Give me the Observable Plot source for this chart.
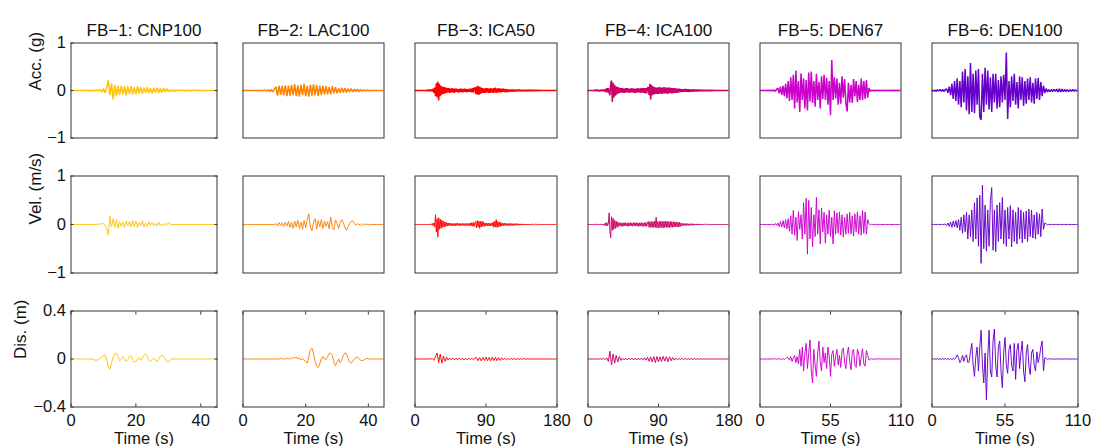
<!DOCTYPE html>
<html><head><meta charset="utf-8">
<script src="https://cdn.jsdelivr.net/npm/d3@7"></script>
<script src="https://cdn.jsdelivr.net/npm/@observablehq/plot@0.6"></script>
<style>
body{margin:0;background:#fff;}
#chart{position:relative;width:1097px;height:446px;overflow:hidden;}
</style></head><body><div id="chart"></div>
<script>
// ---- labels / layout arrays ----
const titles = ["FB−1: CNP100","FB−2: LAC100","FB−3: ICA50","FB−4: ICA100","FB−5: DEN67","FB−6: DEN100"];
const colors = ["#ffc20a","#ff8000","#ff0000","#cc0066","#cc00cc","#6600cc"];
const durations = [45,45,180,180,110,110];
const xTickValues = [[0,20,40],[0,20,40],[0,90,180],[0,90,180],[0,55,110],[0,55,110]];
const rowLabels = ["Acc. (g)","Vel. (m/s)","Dis. (m)"];
const yDomains = [[-1,1],[-1,1],[-0.4,0.4]];
const yTickValues = [[-1,0,1],[-1,0,1],[-0.4,0,0.4]];
const accStep = [0.5,0.5,1,1,1,1];
const velStep = [0.5,0.5,1,1,1,1];
const disStep = [0.5,0.5,2,2,1,1];

// ---- FB-1 ----
const acc1 = [
0,0,0,0,0,0,0,0,.005,-.005,
.01,-.01,.008,-.01,.012,-.01,.015,-.012,.02,-.03,
.04,-.05,.06,.21,-.1,.15,-.19,.12,-.12,.1,
-.09,.1,-.08,.09,-.1,.08,-.07,.09,-.08,.07,
-.08,.09,-.06,.07,-.07,.06,-.05,.07,-.06,.05,
-.06,.05,-.04,.06,-.05,.04,-.04,.05,-.03,.04,
-.03,.02,-.02,.015,-.02,.015,-.01,.015,-.01,.01,
-.01,.01,-.008,.01,-.01,.008,-.005,.02,-.01,.005,
-.005,0,0,0,0,0,0,0,0,0,
0];
const vel1 = [
0,0,0,0,0,0,0,0,0,0,
0,0,0,0,0,0,.003,.005,.01,.02,
.01,-.02,-.08,-.22,.17,-.05,.12,-.06,.1,-.08,
.06,-.04,.05,-.06,.07,-.03,.06,-.05,.08,-.04,
.07,-.06,.04,-.03,.08,-.05,.03,-.04,.06,-.02,
.04,-.03,.02,-.03,.05,-.02,.01,-.02,.02,-.01,
.04,.01,0,0,0,0,0,0,0,0,
0,0,0,0,0,0,0,0,0,0,
0,0,0,0,0,0,0,0,0,0,
0];
const dis1 = [
0,0,0,0,0,0,0,0,0,0,
0,0,0,0,-.005,-.01,-.01,-.005,.005,.015,
.03,.035,0,-.07,-.085,-.03,.02,.045,.05,.02,
-.015,0,.02,0,-.02,-.005,.02,.025,0,-.025,
-.02,0,.01,-.01,.01,.035,.04,.02,-.01,-.02,
-.005,.01,-.01,-.02,0,.02,.03,.025,0,-.02,
-.025,-.01,0,0,0,0,0,0,0,0,
0,0,0,0,0,0,0,0,0,0,
0,0,0,0,0,0,0,0,0,0,
0];

// ---- FB-2 ----
const acc2 = [
0,0,0,0,0,0,0,0,0,0,
0,0,.005,-.008,.01,-.01,.015,-.02,.02,-.03,
.03,.08,-.11,.1,-.09,.1,-.1,.11,-.12,.1,
-.11,.12,-.1,.13,-.12,.11,-.13,.12,-.1,.14,
-.12,.1,-.13,.12,-.11,.13,-.1,.12,-.12,.1,
-.09,.1,-.08,.09,-.08,.07,-.08,.09,-.06,.07,
-.06,.05,-.05,.06,-.04,.05,-.04,.04,-.03,.04,
-.03,.03,-.02,.025,-.02,.02,-.015,.015,-.01,.01,
-.008,.005,-.005,.003,0,0,0,0,0,0,
0];
const vel2 = [
0,0,0,0,0,0,0,0,0,0,
0,0,0,0,0,0,0,0,0,0,
0,.02,-.03,.04,-.02,.03,-.04,.05,-.03,.06,
-.06,.04,-.08,.07,-.05,.09,-.08,.05,-.1,.08,
-.06,.1,.22,-.05,-.13,.04,.12,-.1,.08,-.05,
.1,-.08,.07,-.04,.06,-.09,.15,-.06,-.11,.09,
.03,-.08,.02,.1,.04,-.06,-.12,-.05,.02,.06,
.08,.03,-.01,.02,-.01,.01,-.02,.01,0,.01,
-.01,.005,0,0,0,0,0,0,0,0,
0];
const dis2 = [
0,0,0,0,0,0,0,0,0,0,
0,0,0,0,0,0,0,0,0,0,
0,0,.003,-.003,.005,0,.005,-.005,.008,-.004,
.01,0,.015,.005,.018,0,.01,-.008,.005,-.01,
-.02,-.035,.02,.08,.09,.05,-.02,-.06,-.07,-.04,
0,.02,0,-.005,.02,.045,.05,.03,-.02,-.055,
-.03,0,-.03,-.01,.03,.05,.045,.01,-.025,-.035,
-.02,0,.01,.015,.005,-.01,-.015,-.01,0,.005,
.002,0,0,0,0,0,0,0,0,0,
0];

// ---- FB-3 ----
const acc3 = [
0,0,0,0,0,0,0,0,0,0,
0,0,0,0,0,.01,-.01,.015,-.01,.02,
-.015,.02,-.02,.04,-.05,.06,-.12,.15,-.14,.19,
-.21,.14,-.12,.1,-.09,.08,-.07,.07,-.06,.06,
-.05,.05,-.04,.05,-.05,.04,-.04,.05,-.04,.04,
-.05,.04,-.03,.04,-.04,.03,-.04,.04,-.03,.04,
-.04,.03,-.03,.04,-.03,.03,-.04,.03,-.03,.04,
-.03,.04,-.04,.05,-.04,.05,.06,-.07,.08,-.09,
.1,-.09,.08,-.07,.06,-.05,.05,-.05,.04,-.05,
.05,-.04,.05,-.05,.04,-.05,.05,-.04,.04,-.05,
.05,-.04,.06,-.05,.04,-.04,.05,-.04,.04,-.04,
.04,-.03,.04,-.03,.03,-.04,.03,-.03,.02,-.03,
.02,-.02,.02,-.025,.02,-.02,.02,-.02,.015,-.02,
.02,-.015,.02,-.015,.015,-.02,.015,-.015,.015,-.012,
.012,-.015,.01,-.012,.012,-.01,.015,-.01,.01,-.012,
.01,-.01,.008,-.01,.01,-.008,.012,-.008,.006,-.005,
.003,0,0,0,0,0,0,0,0,0,
0,0,0,0,0,0,0,0,0,0,
0];
const vel3 = [
0,0,0,0,0,0,0,0,0,0,
0,0,0,0,0,0,0,0,0,0,
.01,-.01,.02,-.02,.03,-.05,.2,-.15,.12,-.26,
.14,-.1,.11,-.08,.09,-.06,.07,-.05,.05,-.04,
.04,-.03,.03,-.025,.03,-.02,.025,-.03,.02,-.025,
.02,-.03,.025,-.02,.03,-.02,.02,-.025,.02,-.02,
.025,-.02,.02,-.025,.02,-.02,.025,-.02,.02,-.025,
.03,-.03,.04,-.035,.04,-.04,.045,.06,-.07,.08,
-.05,.07,-.08,.06,-.05,.07,-.04,.05,-.04,.03,
-.03,.03,-.025,.03,-.03,.025,-.03,.03,-.03,.05,
-.06,.07,-.05,.1,-.06,.06,-.05,.05,-.04,.04,
-.03,.025,-.025,.03,-.02,.025,-.025,.02,-.025,.02,
-.02,.025,-.02,.02,-.02,.015,-.02,.02,-.015,.02,
-.015,.015,-.015,.012,-.015,.012,-.01,.012,-.01,.01,
-.012,.01,-.01,.01,-.008,.01,-.01,.008,-.008,.008,
-.008,.006,-.006,.008,-.005,.005,-.005,.006,-.003,0,
0,0,0,0,0,0,0,0,0,0,
0,0,0,0,0,0,0,0,0,0,
0];
const dis3 = [
0,0,0,0,0,0,0,0,0,0,
0,.005,-.01,.02,.05,-.03,.04,-.035,.025,-.02,
.015,-.01,.008,-.006,.007,-.008,.006,-.007,.008,-.006,
.007,-.008,.006,-.007,.008,-.006,.007,-.006,.008,.012,
-.014,.012,-.016,.013,-.012,.015,-.014,.012,-.015,.016,
-.013,.014,-.015,.012,-.012,.01,-.008,.006,-.006,.005,
-.005,.006,-.005,.004,-.005,.004,-.004,.004,-.003,.004,
-.003,.002,0,0,0,0,0,0,0,0,
0,0,0,0,0,0,0,0,0,0,
0];

// ---- FB-4 ----
const acc4 = [
0,0,0,0,0,0,0,0,.01,-.01,
.015,-.01,.02,-.015,.01,-.02,.015,-.01,.02,-.015,
.02,-.02,.03,-.04,.05,-.04,.05,-.05,-.1,.15,
.21,-.24,.16,-.15,.12,-.11,.09,-.08,.07,-.06,
.06,-.05,.05,-.04,.05,-.05,.04,-.05,.05,-.04,
.05,-.04,.04,-.05,.04,-.04,.05,-.04,.04,-.05,
.04,-.05,.04,-.04,.05,-.04,.04,-.05,.05,-.04,
.05,-.05,.05,-.06,.05,-.06,.06,.07,-.1,.14,
-.19,.12,-.1,.09,-.08,.07,-.07,.06,-.07,.06,
-.07,.07,-.06,.06,-.07,.06,-.06,.07,-.06,.06,
-.06,.06,-.07,.06,-.05,.06,-.06,.05,-.06,.05,
-.05,.05,-.05,.04,-.05,.04,-.04,.04,-.035,.03,
-.03,.03,-.03,.03,-.025,.03,-.025,.025,-.03,.025,
-.025,.02,-.025,.02,-.02,.025,-.02,.02,-.02,.02,
-.02,.018,-.015,.02,-.015,.015,-.018,.015,-.015,.012,
-.015,.012,-.01,.015,-.01,.012,-.01,.01,-.012,.008,
-.005,.003,0,0,0,0,0,0,0,0,
0,0,0,0,0,0,0,0,0,0,
0];
const vel4 = [
0,0,0,0,0,0,0,0,.005,-.005,
.008,-.006,.01,-.008,.006,-.01,.008,-.006,.01,-.008,
.01,-.02,.03,-.025,.04,-.03,.03,.24,-.15,-.27,
.16,-.12,.13,-.1,.09,-.08,.07,-.06,.05,-.04,
.04,-.03,.035,-.04,.03,-.035,.04,-.03,.035,-.03,
.03,-.04,.035,-.03,.04,-.03,.03,-.035,.04,-.03,
.035,-.03,.04,-.035,.03,-.04,.035,-.03,.04,-.035,
.03,-.04,.04,-.035,.04,-.04,.045,.06,-.06,.06,
-.06,.06,-.06,.06,-.06,.07,-.06,.15,-.07,.06,
-.07,.06,-.065,.07,-.06,.06,-.07,.065,-.06,.07,
-.06,.065,-.06,.06,-.065,.06,-.055,.06,-.06,.055,
-.05,.055,-.05,.05,-.05,.045,-.05,.045,-.04,.03,
-.025,.02,-.025,.02,-.02,.02,-.02,.018,-.02,.015,
-.018,.015,-.015,.018,-.015,.012,-.015,.012,-.012,.012,
-.01,.012,-.01,.01,-.01,.008,-.01,.008,-.008,.008,
-.006,.006,-.005,.005,-.005,.004,-.003,0,0,0,
0,0,0,0,0,0,0,0,0,0,
0,0,0,0,0,0,0,0,0,0,
0];
const dis4 = [
0,0,0,0,0,0,0,0,0,0,
.004,-.006,.01,-.02,.065,-.05,.04,-.035,.03,-.025,
.02,-.012,.008,-.008,.007,-.008,.008,-.007,.008,-.008,
.007,-.008,.008,-.007,.008,-.008,.01,-.01,.015,-.02,
.018,-.025,.02,-.03,.02,-.025,.018,-.02,.022,-.018,
.02,-.022,.018,-.015,.012,-.01,.008,-.006,.005,-.005,
.005,-.004,.005,-.004,.004,-.004,.003,-.004,.003,-.003,
.003,-.003,.003,-.002,.002,-.002,.002,-.002,.001,0,
0,0,0,0,0,0,0,0,0,0,
0];

// ---- FB-5 ----
const acc5 = [
0,0,0,.003,-.003,.004,-.004,.005,-.005,.005,
-.005,.01,-.02,.03,.05,-.06,.08,-.09,.1,-.12,
.14,-.16,.2,-.22,.28,-.2,.33,-.38,.42,-.25,
.2,-.45,.36,-.2,.25,-.38,.22,-.42,.38,-.23,
.4,-.26,.2,-.34,.35,-.2,.18,-.38,.3,-.18,
.33,-.2,.27,-.3,.2,-.52,.64,-.2,.28,-.17,
.25,-.3,.16,-.28,.3,-.15,.24,-.27,-.44,.16,
-.25,.12,-.26,.24,-.12,.2,-.24,.12,-.2,.25,
-.2,.2,-.18,.22,-.15,.05,-.02,.01,-.01,.01,
-.01,.01,-.008,.01,-.01,.008,-.008,.01,-.01,.008,
-.008,.008,-.006,.008,-.006,.006,-.005,.005,-.005,.004,
0];
const vel5 = [
0,0,0,0,0,0,0,0,0,0,
.005,-.01,.02,-.02,.03,-.04,.06,-.05,.08,-.07,
.1,-.09,.12,-.14,.18,-.2,.29,-.22,.15,-.33,
.26,-.1,.2,-.3,.45,-.2,.54,-.61,.5,-.3,
.35,-.46,.2,-.25,.56,-.2,.3,-.4,.34,-.15,
.25,-.38,.2,-.2,.3,-.25,.15,-.4,.28,-.2,
.24,-.18,.26,-.22,.2,-.26,.15,-.2,.22,-.18,
.25,-.2,.18,-.24,.22,-.15,.26,-.2,.18,-.22,
.29,-.18,.26,-.2,.1,.02,-.01,.005,-.005,.005,
-.005,.003,-.003,.003,0,0,0,0,0,0,
0,0,0,0,0,0,0,0,0,0,
0];
const dis5 = [
0,0,0,0,0,0,0,0,0,0,
.003,-.003,.004,-.003,.005,-.004,.003,-.005,.004,-.003,
.005,.015,.01,-.01,.02,-.02,.01,.03,-.03,.02,
-.04,.08,-.06,.1,-.1,.05,.13,-.08,.05,.16,
-.1,-.2,.08,-.05,-.145,.05,.15,-.02,-.1,.1,
-.03,.05,-.08,.1,.02,-.145,.04,.07,-.06,.02,
.08,-.05,.03,-.07,.07,.09,-.03,-.08,.04,.1,
-.02,-.09,.06,.08,-.05,-.07,.08,.05,-.06,.02,
.085,-.04,-.06,.07,.03,-.01,0,.003,-.003,.003,
-.003,.002,-.002,.003,-.002,.002,-.002,.002,-.002,.002,
-.002,.002,-.002,.002,-.002,.002,-.001,.001,0,0,
0];

// ---- FB-6 ----
const acc6 = [
.01,-.015,.01,-.02,.015,-.01,.02,-.015,.02,-.02,
.02,.03,-.05,.08,-.1,.14,-.18,.2,-.22,.25,
-.3,.2,-.35,.4,-.25,.45,-.42,.3,-.5,.58,
-.45,.35,-.48,.42,-.3,.45,-.55,-.62,.35,-.45,
.48,-.3,.42,-.4,.28,-.45,.35,-.25,.35,-.38,
.22,-.35,.3,-.25,.33,-.2,.8,-.6,.2,-.35,
.3,-.22,.35,-.3,.18,-.38,.3,-.2,.28,-.32,
.2,-.28,.25,-.2,.28,-.25,.16,-.28,.25,-.18,
.26,-.2,.18,-.12,.1,-.05,.04,-.03,.02,-.025,
.02,-.02,.025,-.02,.03,-.03,.035,-.03,.03,-.025,
.02,-.02,.015,-.02,.015,-.015,.02,-.015,.015,-.012,
.01];
const vel6 = [
0,.003,-.003,.004,-.004,.005,-.005,.004,-.005,.005,
.01,-.02,.03,-.04,.05,-.06,.07,-.05,.08,-.07,
.1,-.12,.15,-.18,.2,-.15,.25,-.3,.2,-.25,
.3,-.35,.45,-.3,.55,-.45,.6,-.8,.81,-.5,
.4,-.55,.3,-.45,.5,.76,-.53,.3,-.56,.4,
-.35,.45,-.3,.56,-.4,.3,-.45,.35,-.3,.39,
-.46,.3,-.35,.25,-.4,.35,-.3,.3,-.38,.25,
-.3,.28,-.35,.32,-.25,.3,-.28,.2,-.3,.25,
-.2,.22,-.25,.32,-.1,.03,.02,-.01,.005,-.005,
.005,-.004,.004,-.004,.003,-.003,.003,-.003,.003,-.003,
.003,-.003,.002,-.002,.002,-.002,.002,-.002,.002,-.002,
0];
const dis6 = [
0,0,.002,-.002,.003,-.003,.002,-.003,.003,-.002,
.005,-.004,.005,-.005,.004,-.005,.005,-.004,.01,.035,
.01,-.03,-.01,.03,-.02,.02,.035,-.03,-.02,.06,
.13,-.05,-.145,.02,.1,-.1,.1,.24,-.05,-.2,
.05,-.34,.02,.24,-.1,-.15,.15,.25,-.05,-.15,
.1,.15,-.1,-.24,.05,.18,-.05,-.12,.08,.12,
-.05,-.1,.13,-.17,.08,.13,-.08,.05,.15,-.1,
-.19,.05,.12,-.06,-.13,.05,.08,-.05,-.1,.06,
-.03,.02,.1,.15,-.1,.01,.005,-.003,.003,-.002,
.002,-.002,.002,-.002,.002,-.002,.002,-.002,.002,-.002,
.002,-.002,.002,-.002,.001,-.001,.001,-.001,0,0,
0];

// ---- drawing ----
const W = 1097, H = 446;
const colLeft = [70,242,414,587,759,931];
const colRight = [216,383,556,728,900,1077];
const rowTop = [42,175,310];
const rowBottom = [137,272,406];
const labelShift = [-35,-35,-50];
const traceWidth = [1.5,0.95,0.95];
const font = "'Liberation Sans', Arial, Helvetica, sans-serif";
const ink = "#111";
const fmt = d => d === 0 ? "0" : (d < 0 ? "−" : "") + Math.abs(d);

const series = [[acc1,acc2,acc3,acc4,acc5,acc6],[vel1,vel2,vel3,vel4,vel5,vel6],[dis1,dis2,dis3,dis4,dis5,dis6]];
const steps = [accStep, velStep, disStep];
const root = document.getElementById("chart");

for (let r = 0; r < 3; r++) {
  for (let c = 0; c < 6; c++) {
    const dt = steps[r][c];
    const table = series[r][c].map((v, i) => ({t: i * dt, v}));
    const marks = [
      Plot.lineY(table, {x: "t", y: "v", stroke: colors[c], strokeWidth: traceWidth[r], strokeLinejoin: "miter", clip: true}),
      Plot.frame({stroke: "#333", strokeWidth: 1})
    ];
    if (c === 0) {
      marks.push(Plot.axisY({anchor: "left", ticks: yTickValues[r], tickFormat: fmt, tickSize: 0, tickPadding: 5, label: null, fontSize: 16.5, fill: ink}));
      marks.push(Plot.axisY({anchor: "left", ticks: yTickValues[r], tickSize: -3, tickFormat: () => "", label: null, stroke: "#333"}));
      marks.push(Plot.axisY({anchor: "right", ticks: yTickValues[r], tickSize: -3, tickFormat: () => "", label: null, stroke: "#333"}));
      marks.push(Plot.text([rowLabels[r]], {text: d => d, frameAnchor: "left", rotate: -90, dx: labelShift[r], fontSize: 17, fill: ink}));
    }
    if (r === 2) {
      marks.push(Plot.axisX({anchor: "bottom", ticks: xTickValues[c], tickFormat: fmt, tickSize: 0, tickPadding: 7, label: null, fontSize: 16.5, fill: ink}));
      marks.push(Plot.axisX({anchor: "bottom", ticks: xTickValues[c], tickSize: -3, tickFormat: () => "", label: null, stroke: "#333"}));
      marks.push(Plot.axisX({anchor: "top", ticks: xTickValues[c], tickSize: -3, tickFormat: () => "", label: null, stroke: "#333"}));
      marks.push(Plot.text(["Time (s)"], {text: d => d, frameAnchor: "bottom", lineAnchor: "top", dy: 25, fontSize: 16.5, fill: ink}));
    }
    if (r === 0) {
      marks.push(Plot.text([titles[c]], {text: d => d, frameAnchor: "top", dy: -19, fontSize: 17, fill: ink}));
    }
    const svg = Plot.plot({
      width: W, height: H,
      marginLeft: colLeft[c] + 0.5,
      marginRight: W - colRight[c] - 0.5,
      marginTop: rowTop[r] + 0.5,
      marginBottom: H - rowBottom[r] - 0.5,
      x: {domain: [0, durations[c]], axis: null},
      y: {domain: yDomains[r], axis: null},
      style: `position:absolute;left:0;top:0;background:transparent;overflow:visible;max-width:none;font-family:${font};color:${ink};`,
      marks
    });
    root.append(svg);
  }
}
</script>
</body></html>
